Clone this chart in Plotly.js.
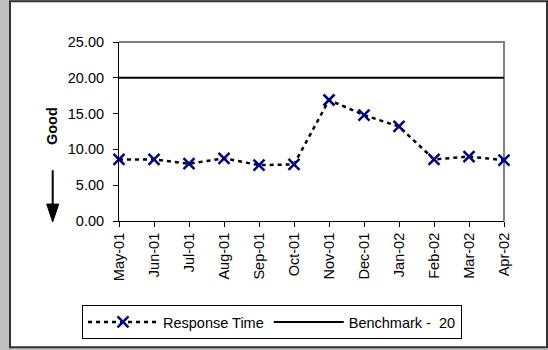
<!DOCTYPE html>
<html>
<head>
<meta charset="utf-8">
<script src="https://cdn.plot.ly/plotly-3.0.1.min.js"></script>
<style>html,body{margin:0;padding:0;background:#c0c0c0;}#chart{width:548px;height:350px;}</style>
</head>
<body>
<div id="chart"></div>
<script>
const months = ["May-01","Jun-01","Jul-01","Aug-01","Sep-01","Oct-01","Nov-01","Dec-01","Jan-02","Feb-02","Mar-02","Apr-02"];
const responseTime = [8.6, 8.6, 8.0, 8.75, 7.8, 7.9, 16.9, 14.8, 13.2, 8.6, 9.0, 8.5];
const benchmark = [20, 20, 20, 20, 20, 20, 20, 20, 20, 20, 20, 20];
const yTicks = [0, 5, 10, 15, 20, 25];

const FONT = "Liberation Sans, Arial, sans-serif";
const L = 119, R = 504, T = 42, B = 222, W = 548, H = 350;
const px = p => (p - L) / (R - L);
const py = q => (B - q) / (B - T);

const traces = [
  {
    x: months, y: responseTime, name: "Response Time", type: "scatter", mode: "lines+markers",
    line: {color: "#000000", width: 2.5, dash: "4px,4px"},
    marker: {symbol: "x-thin", size: 11, color: "#000080", line: {color: "#000080", width: 2.5}},
    cliponaxis: false
  },
  {
    x: months, y: benchmark, name: "Benchmark -  20", type: "scatter", mode: "lines",
    line: {color: "#000000", width: 2}, cliponaxis: false
  }
];

const layout = {
  width: W, height: H,
  margin: {l: L, r: W - R, t: T, b: H - B, pad: 0},
  paper_bgcolor: "#c0c0c0",
  plot_bgcolor: "rgba(0,0,0,0)",
  font: {family: FONT, size: 14.5, color: "#000000"},
  showlegend: true,
  legend: {
    orientation: "h", x: px(82), y: py(305), xanchor: "left", yanchor: "top",
    bgcolor: "#ffffff", bordercolor: "#000000", borderwidth: 1,
    font: {family: FONT, size: 14.5, color: "#000000"}, itemwidth: 70
  },
  xaxis: {
    type: "category", categoryorder: "array", categoryarray: months,
    range: [0, months.length - 1], autorange: false,
    showline: true, linecolor: "#000000", linewidth: 1,
    ticks: "outside", ticklen: 5, tickcolor: "#000000", tickwidth: 1,
    tickangle: -90, showgrid: false, zeroline: false,
    tickfont: {family: FONT, size: 14.5, color: "#000000"}
  },
  yaxis: {
    range: [0, 25], autorange: false, tickvals: yTicks, tickformat: ".2f",
    showline: true, linecolor: "#000000", linewidth: 1,
    ticks: "outside", ticklen: 5, tickcolor: "#000000", tickwidth: 1,
    ticklabelstandoff: 6,
    showgrid: false, zeroline: false,
    tickfont: {family: FONT, size: 14.5, color: "#000000"}
  },
  shapes: [
    {type: "rect", xref: "paper", yref: "paper", x0: px(10), x1: px(547), y0: py(1), y1: py(349),
     fillcolor: "#ffffff", line: {color: "#333333", width: 2}, layer: "below"},
    {type: "path", xref: "paper", yref: "paper", path: "M0,1 L1,1 L1,0",
     line: {color: "#808080", width: 2}, layer: "below"},
    {type: "line", xref: "paper", yref: "paper", x0: px(52.7), x1: px(52.7), y0: py(171), y1: py(206),
     line: {color: "#000000", width: 2}},
    {type: "path", xref: "paper", yref: "paper",
     path: "M" + px(46.7) + "," + py(205) + " L" + px(58.7) + "," + py(205) + " L" + px(52.7) + "," + py(223) + " Z",
     fillcolor: "#000000", line: {color: "#000000", width: 1}}
  ],
  annotations: [
    {text: "<b>Good</b>", xref: "paper", yref: "paper", x: px(51.5), y: py(127), showarrow: false,
     textangle: -90, font: {family: FONT, size: 14.5, color: "#000000"}, xanchor: "center", yanchor: "middle"}
  ]
};

Plotly.newPlot("chart", traces, layout, {displayModeBar: false, staticPlot: true});
</script>
</body>
</html>
